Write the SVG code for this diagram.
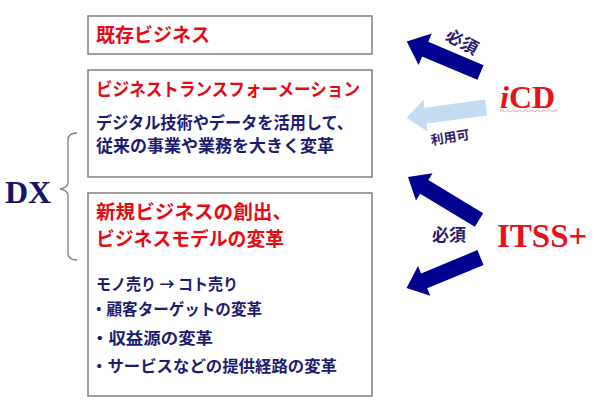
<svg xmlns="http://www.w3.org/2000/svg" width="595" height="412" viewBox="0 0 595 412">
<style>
.box{fill:#fff;stroke:#7f7f7f;stroke-width:1.5}
.jp{font-family:"Noto Sans CJK JP","Noto Sans CJK SC",sans-serif}
.red{fill:#e60a14;font-weight:600}
.blue{fill:#1c1c6e;font-weight:bold}
.lbl{fill:#2b1b6b;font-weight:bold}
.ser{font-family:"Liberation Serif","DejaVu Serif",serif;font-weight:bold}
.nav{fill:#00008f}
.lite{fill:#c3dcf2}
</style>
<rect width="595" height="412" fill="#fff"/>
<g id="box-existing">
<rect class="box" x="88" y="16" width="284" height="38"/>
<text class="jp red" x="96" y="42" font-size="19" textLength="114" lengthAdjust="spacingAndGlyphs">既存ビジネス</text>
</g>
<g id="box-bx">
<rect class="box" x="88" y="70" width="284" height="107"/>
<text class="jp red" x="96" y="96" font-size="18" textLength="264" lengthAdjust="spacingAndGlyphs">ビジネストランスフォーメーション</text>
<text class="jp blue" x="96" y="129" font-size="17" textLength="257" lengthAdjust="spacingAndGlyphs">デジタル技術やデータを活用して、</text>
<text class="jp blue" x="96" y="152" font-size="17" textLength="238" lengthAdjust="spacingAndGlyphs">従来の事業や業務を大きく変革</text>
</g>
<g id="box-new">
<rect class="box" x="88" y="193" width="284" height="203"/>
<text class="jp red" x="96" y="219" font-size="19" textLength="196" lengthAdjust="spacingAndGlyphs">新規ビジネスの創出、</text>
<text class="jp red" x="96" y="246" font-size="19" textLength="188" lengthAdjust="spacingAndGlyphs">ビジネスモデルの変革</text>
<text class="jp blue" x="96" y="290" font-size="16" textLength="142" lengthAdjust="spacingAndGlyphs">モノ売り → コト売り</text>
<text class="jp blue" x="91" y="315" font-size="16" textLength="171" lengthAdjust="spacingAndGlyphs">・顧客ターゲットの変革</text>
<text class="jp blue" x="91" y="344" font-size="16" textLength="122" lengthAdjust="spacingAndGlyphs">・収益源の変革</text>
<text class="jp blue" x="91" y="372" font-size="16" textLength="246" lengthAdjust="spacingAndGlyphs">・サービスなどの提供経路の変革</text>
</g>
<g id="dx">
<path d="M77,133 Q68,133 68,140 V182 Q68,188 60,189 Q68,190 68,196 V253 Q68,260 77,260" fill="none" stroke="#808080" stroke-width="1.3"/>
<text class="ser" x="5" y="203" font-size="32" fill="#14146b">DX</text>
</g>
<g id="icd">
<text class="ser" x="500" y="108" font-size="32" fill="#e8101a"><tspan font-style="italic">i</tspan>CD</text>
<path d="M500,111 q1.5,-1.5 3,0 t3,0 t3,0 t3,0 t3,0 t3,0 t3,0 t3,0 t3,0 t3,0 t3,0 t3,0 t3,0 t3,0 t3,0 t3,0 t3,0 t3,0 t3,0" fill="none" stroke="#e89090" stroke-width="0.8"/>
</g>
<g id="itss">
<text class="ser" x="497" y="247" font-size="33" fill="#e8101a">ITSS+</text>
</g>
<g id="connectors">
<path class="nav" transform="translate(480.5,72.5) rotate(202.8)" d="M0,-8 H60 V-17 L80,0 L60,17 V8 H0 Z"/>
<path class="lite" transform="translate(486,107.5) rotate(172.4)" d="M0,-8 H61 V-16 L80,0 L61,16 V8 H0 Z"/>
<path class="nav" transform="translate(479,220) rotate(211.2)" d="M0,-8 H64 V-16 L83,0 L64,16 V8 H0 Z"/>
<path class="nav" transform="translate(480.5,257.5) rotate(157.5)" d="M0,-8 H61 V-16 L80,0 L61,16 V8 H0 Z"/>
<text class="jp lbl" transform="translate(462,42) rotate(28)" x="0" y="6" font-size="17" text-anchor="middle">必須</text>
<text class="jp lbl" transform="translate(450,137) rotate(-9)" x="0" y="5" font-size="13" text-anchor="middle">利用可</text>
<text class="jp lbl" x="449" y="241" font-size="17" text-anchor="middle">必須</text>
</g>
</svg>
